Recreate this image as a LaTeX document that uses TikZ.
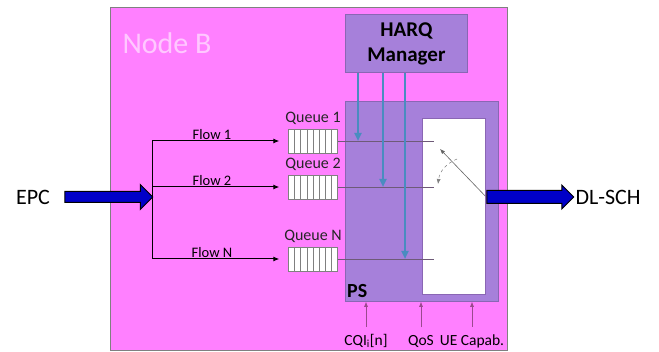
\documentclass[tikz,border=0pt]{standalone}
\usepackage{fontspec}
\setmainfont{Carlito}
\usetikzlibrary{positioning, shapes.arrows, arrows.meta, calc}
\definecolor{nodepink}{HTML}{FF80FF}
\definecolor{titlepink}{HTML}{FFC8FF}
\definecolor{psviolet}{HTML}{A680DA}
\definecolor{psedge}{HTML}{8A66B4}
\definecolor{harqblue}{HTML}{4A8CC0}
\definecolor{fatblue}{HTML}{0000C8}
\definecolor{wire}{HTML}{6E5A78}
\definecolor{feed}{HTML}{9A4A8E}

\begin{document}
\begin{tikzpicture}[x=1pt, y=-1pt, font=\fontsize{14.5}{14.5}\selectfont,
  box/.style={draw=psedge, fill=psviolet, line width=0.8pt, inner sep=0pt, anchor=north west},
  queue/.style={draw=gray, fill=white, minimum width=49pt, minimum height=24pt, inner sep=0pt},
  qlabel/.style={font=\fontsize{16}{16}\selectfont, text=black!85, inner sep=0pt},
  flow/.style={-{Latex[length=6pt,width=5pt]}, line width=1pt, shorten >=9pt},
  harq/.style={-{Triangle[length=8pt,width=7pt]}, harqblue, line width=2pt},
  fat/.style={single arrow, draw=black, fill=fatblue, line width=1pt, inner sep=0pt,
              single arrow head indent=0pt},
  feedin/.style={-{Latex[length=5pt,width=4pt]}, feed, line width=0.6pt, shorten <=4pt},
  small/.style={font=\fontsize{15.5}{15.5}\selectfont},
  big/.style={font=\fontsize{22}{22}\selectfont}
]
  \useasboundingbox (0,0) rectangle (659,352);

  % Node B frame
  \node[draw=gray, fill=nodepink, minimum width=397pt, minimum height=343pt,
        inner sep=0pt, anchor=north west] (nodeb) at (110,7) {};
  \node[anchor=west, text=titlepink, font=\fontsize{30}{30}\selectfont] (title) at (119,43) {Node B};

  % scheduler blocks
  \node[box, minimum width=122pt, minimum height=58pt, align=center,
        font=\bfseries\fontsize{21}{25}\selectfont] (harq) at (345,14) {HARQ\\Manager};
  \node[box, minimum width=153pt, minimum height=200pt] (ps) at (345,101) {};
  \node[draw=psedge, fill=white, minimum width=63pt, minimum height=176pt,
        inner sep=0pt, anchor=north west] (switch) at (422,118) {};
  \node[anchor=base west, inner sep=0pt, font=\bfseries\fontsize{20}{20}\selectfont]
        (pslabel) at (347,298) {PS};

  % queues
  \node[queue] (q1) at (313,141) {};
  \node[queue] (q2) at (313,187) {};
  \node[queue] (qn) at (313,259) {};
  \node[qlabel, above=4pt of q1] {Queue 1};
  \node[qlabel, above=4pt of q2] {Queue 2};
  \node[qlabel, above=4pt of qn] {Queue N};
  \foreach \q in {q1,q2,qn}{
    \foreach \i in {1,...,7}
      \draw[gray] ($(\q.north west)!\i/8!(\q.north east)$) -- ($(\q.south west)!\i/8!(\q.south east)$);
    \coordinate (\q tap) at ($(\q.east)+(96,0)$);
    \draw[wire, line width=0.8pt] (\q.east) -- (\q tap);
  }

  % input side
  \node[big] (epc) at (33,197) {EPC};
  \coordinate (split) at (152,197);
  \node[fat, minimum height=88pt, text height=5pt, text depth=5pt, single arrow head extend=7pt]
        (epcarrow) at (106,197) {};
  \draw[line width=1pt] (split |- q1) -- (split |- qn);
  \draw[flow] (split |- q1) -- node[pos=0.44, above=1pt, inner sep=0pt] {Flow 1} (q1.west);
  \draw[flow] (split |- q2) -- node[pos=0.44, above=1pt, inner sep=0pt] {Flow 2} (q2.west);
  \draw[flow] (split |- qn) -- node[pos=0.44, above=1pt, inner sep=0pt] {Flow N} (qn.west);

  % HARQ feedback into the queues
  \draw[harq] ($(harq.south west)+(13,0)$) coordinate (h1) -- (h1 |- q1tap);
  \draw[harq] ($(harq.south west)+(38,0)$) coordinate (h2) -- (h2 |- q2tap);
  \draw[harq] ($(harq.south west)+(60,0)$) coordinate (h3) -- (h3 |- qntap);

  % switch
  \coordinate (pivot) at ($(switch.east)+(0,-10)$);
  \coordinate (arm) at (440,149);
  \draw[gray!80!black, line width=0.6pt, -{Latex[length=5pt,width=4pt]}] (pivot) -- (arm);
  \draw[gray, dashed, line width=0.5pt, -{Latex[length=5pt,width=4pt]}] (457,159) to[bend right=30] (438,184);

  % output
  \node[fat, minimum height=87pt, text height=6pt, text depth=6pt, single arrow head extend=5.5pt]
        (dlarrow) at (527,197) {};
  \node[big, anchor=west] (dlsch) at (572,197) {DL-SCH};

  % scheduler inputs
  \node[small] (cqi) at (366,341) {CQI\textsubscript{i}[n]};
  \node[small] (qos) at (421,341) {QoS};
  \node[small] (ue) at (472,341) {UE Capab.};
  \draw[feedin] (cqi.north) -- (cqi.north |- ps.south);
  \draw[feedin] (qos.north) -- (qos.north |- ps.south);
  \draw[feedin] (ue.north) -- (ue.north |- ps.south);
\end{tikzpicture}
\end{document}
